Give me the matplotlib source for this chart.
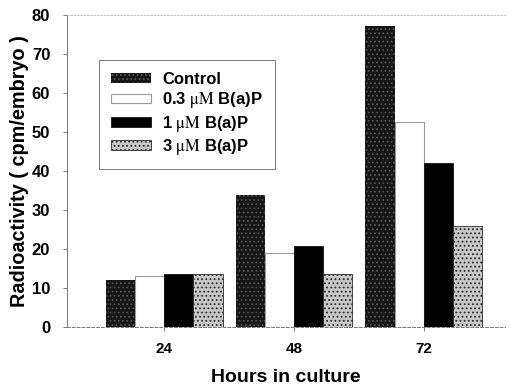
import numpy as np
import matplotlib.pyplot as plt

# data
hours = [24, 48, 72]
series = ['Control', '0.3 $\\mathrm{\\mu M}$ B(a)P', '1 $\\mathrm{\\mu M}$ B(a)P', '3 $\\mathrm{\\mu M}$ B(a)P']
control = [12.2, 33.9, 77.2]
bap_03 = [13.0, 19.0, 52.5]
bap_1 = [13.7, 20.9, 42.2]
bap_3 = [13.7, 13.5, 26.0]
y_ticks = [0, 10, 20, 30, 40, 50, 60, 70, 80]

plt.rcParams['font.family'] = ['Liberation Sans', 'DejaVu Sans']
plt.rcParams['mathtext.fontset'] = 'stix'
plt.rcParams['hatch.linewidth'] = 0.8

fig = plt.figure(figsize=(5.10, 3.88), dpi=100)
ax = fig.add_axes([0.131, 0.157, 0.859, 0.804])

w = 5.4
styles = [
    dict(facecolor='#151515', edgecolor='#555555', hatch='....', linewidth=0),
    dict(facecolor='white', edgecolor='#9a9a9a', linewidth=0.8),
    dict(facecolor='black', edgecolor='black', linewidth=0.5),
    dict(facecolor='#c8c8c8', edgecolor='#2a2a2a', hatch='....', linewidth=0.6),
]
values = [control, bap_03, bap_1, bap_3]
x = np.array(hours, dtype=float)
for i, (vals, lab, st) in enumerate(zip(values, series, styles)):
    ax.bar(x + (i - 1.5) * w, vals, width=w, label=lab, **st)

ax.set_xlim(6, 87)
ax.set_ylim(0, 80)
ax.set_xticks(hours)
ax.set_yticks(y_ticks)
ax.tick_params(axis='both', labelsize=12, length=3, width=0.6, color='#666666')
for t in ax.get_xticklabels() + ax.get_yticklabels():
    t.set_fontweight('bold')
ax.tick_params(axis='x', pad=8, labelsize=11)
ax.tick_params(axis='y', pad=9)

ax.spines['right'].set_visible(False)
ax.spines['top'].set_color('#bbbbbb')
ax.spines['top'].set_linestyle((0, (2, 2)))
ax.spines['top'].set_linewidth(0.6)
ax.spines['left'].set_color('#777777')
ax.spines['left'].set_linewidth(0.7)
ax.spines['bottom'].set_color('#777777')
ax.spines['bottom'].set_linestyle((0, (3, 2)))
ax.spines['bottom'].set_linewidth(0.7)

ax.set_ylabel('Radioactivity ( cpm/embryo )', fontsize=14.3, fontweight='bold', labelpad=2)
ax.set_xlabel('Hours in culture', fontsize=14, fontweight='bold', labelpad=9)

leg = ax.legend(loc='upper left', bbox_to_anchor=(0.073, 0.856),
                prop={'weight': 'bold', 'size': 12}, frameon=True, fancybox=False,
                edgecolor='#555555', handlelength=2.4, handleheight=0.5,
                labelspacing=0.2, borderpad=0.72, handletextpad=0.7,
                borderaxespad=0)
leg.get_frame().set_linewidth(0.7)

fig.savefig('out.png', dpi=100)
